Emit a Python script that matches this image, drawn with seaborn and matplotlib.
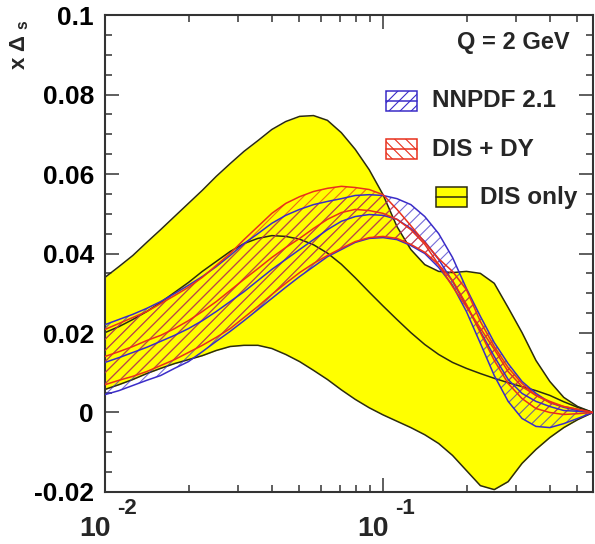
import matplotlib as mpl
import matplotlib.pyplot as plt
import matplotlib.patches as mpatches
import matplotlib.ticker as ticker
import numpy as np
import pandas as pd
import seaborn as sns

# x grid: every 0.05 in log10(x)
x_vals = [0.01, 0.01122, 0.01259, 0.01413, 0.01585, 0.01778, 0.01995, 0.02239, 0.02512,
          0.02818, 0.03162, 0.03548, 0.03981, 0.04467, 0.05012, 0.05623, 0.0631, 0.07079,
          0.07943, 0.08913, 0.1, 0.1122, 0.1259, 0.1413, 0.1585, 0.1778, 0.1995, 0.2239,
          0.2512, 0.2818, 0.3162, 0.3548, 0.3981, 0.4467, 0.5012, 0.569]

# DIS only (yellow band)
dis_upper = [0.034, 0.0367, 0.0395, 0.0428, 0.046, 0.0493, 0.0526, 0.0559, 0.0594,
             0.0626, 0.0657, 0.0684, 0.0712, 0.0732, 0.0745, 0.0747, 0.0735, 0.0704,
             0.0662, 0.0611, 0.0548, 0.0468, 0.041, 0.0372, 0.0355, 0.0352, 0.0355,
             0.035, 0.0325, 0.0264, 0.0201, 0.0131, 0.0078, 0.0038, 0.0015, 0.0]
dis_lower = [0.0058, 0.007, 0.0083, 0.0098, 0.0111, 0.0123, 0.0133, 0.0143, 0.0156,
             0.0166, 0.0169, 0.0169, 0.0161, 0.0146, 0.0128, 0.0106, 0.0083, 0.0057,
             0.0033, 0.0012, -0.0006, -0.0022, -0.0038, -0.0056, -0.0078, -0.0108, -0.0146,
             -0.0184, -0.0194, -0.0174, -0.0128, -0.0093, -0.0063, -0.0038, -0.0018, 0.0]
dis_central = [0.0201, 0.0216, 0.0234, 0.0254, 0.0277, 0.0302, 0.0327, 0.0355, 0.038,
               0.0405, 0.0425, 0.0438, 0.0445, 0.0443, 0.0436, 0.0422, 0.0401, 0.0373,
               0.0339, 0.0303, 0.0268, 0.0234, 0.0201, 0.0171, 0.0146, 0.0126, 0.0111,
               0.0098, 0.0086, 0.0075, 0.0065, 0.0055, 0.0043, 0.0027, 0.0013, 0.0]

# NNPDF 2.1 (blue hatched band)
nnpdf_upper = [0.0221, 0.0234, 0.0247, 0.0262, 0.0279, 0.0299, 0.032, 0.0342, 0.0367,
               0.0395, 0.0425, 0.045, 0.0476, 0.0496, 0.0511, 0.0523, 0.0531, 0.0538,
               0.0546, 0.0548, 0.0546, 0.0538, 0.0523, 0.0493, 0.045, 0.039, 0.0312,
               0.0242, 0.0176, 0.0123, 0.0078, 0.0048, 0.0025, 0.0013, 0.0005, 0.0]
nnpdf_lower = [0.0045, 0.0055, 0.0068, 0.0081, 0.0093, 0.0111, 0.0128, 0.0153, 0.0179,
               0.0204, 0.0231, 0.0259, 0.0287, 0.0315, 0.0342, 0.0367, 0.0392, 0.041,
               0.0428, 0.0438, 0.044, 0.0435, 0.042, 0.04, 0.0365, 0.032, 0.0254,
               0.0174, 0.0093, 0.0028, -0.0015, -0.0035, -0.0038, -0.0028, -0.0015, 0.0]
nnpdf_central = [0.0126, 0.0138, 0.0151, 0.0164, 0.0179, 0.0194, 0.0211, 0.0231, 0.0254,
                 0.0279, 0.0304, 0.0332, 0.036, 0.0385, 0.041, 0.0435, 0.046, 0.0481,
                 0.0493, 0.0498, 0.0496, 0.0486, 0.0463, 0.043, 0.0385, 0.033, 0.0269,
                 0.0204, 0.0141, 0.0083, 0.0048, 0.0028, 0.0015, 0.0005, 0.0003, 0.0]

# DIS + DY (red hatched band)
dy_upper = [0.0209, 0.0224, 0.0239, 0.0254, 0.0274, 0.0294, 0.0315, 0.034, 0.037,
            0.04, 0.0435, 0.0468, 0.0501, 0.0526, 0.0543, 0.0556, 0.0564, 0.0569,
            0.0566, 0.0561, 0.0548, 0.0511, 0.047, 0.0428, 0.0387, 0.0355, 0.0309,
            0.0229, 0.0166, 0.0113, 0.0073, 0.0043, 0.0025, 0.0015, 0.0008, 0.0]
dy_lower = [0.007, 0.0081, 0.0091, 0.0103, 0.0118, 0.0133, 0.0151, 0.0169, 0.0189,
            0.0211, 0.0239, 0.0267, 0.0297, 0.0325, 0.0352, 0.0375, 0.0395, 0.0413,
            0.043, 0.044, 0.0443, 0.0438, 0.0423, 0.0403, 0.0372, 0.0332, 0.0272,
            0.0201, 0.0131, 0.0073, 0.0035, 0.001, 0.0, -0.0005, -0.0003, 0.0]
dy_central = [0.0141, 0.0153, 0.0166, 0.0181, 0.0194, 0.0211, 0.0231, 0.0254, 0.0279,
              0.0307, 0.0335, 0.0362, 0.039, 0.0415, 0.0438, 0.0463, 0.0486, 0.0503,
              0.0511, 0.0508, 0.0501, 0.0486, 0.046, 0.0423, 0.0372, 0.0317, 0.0266,
              0.0212, 0.0159, 0.0103, 0.0065, 0.0043, 0.0028, 0.0015, 0.0008, 0.0]

x_major_ticks = [0.01, 0.1]
x_major_exponents = ["-2", "-1"]

sns.set_style("ticks")
plt.rcParams["font.family"] = ["Liberation Sans", "DejaVu Sans"]
plt.rcParams["font.weight"] = "bold"
plt.rcParams["mathtext.fontset"] = "custom"
plt.rcParams["mathtext.rm"] = "Liberation Sans:bold"
plt.rcParams["mathtext.bf"] = "Liberation Sans:bold"
plt.rcParams["mathtext.default"] = "bf"
plt.rcParams["hatch.linewidth"] = 0.8

YELLOW = "#ffff00"
EDGE = "#2b2b10"
BLUE = "#3a2cc8"
RED = "#e8301c"

df = pd.DataFrame({
    "x": x_vals,
    "dis_upper": dis_upper, "dis_lower": dis_lower, "dis_central": dis_central,
    "nnpdf_upper": nnpdf_upper, "nnpdf_lower": nnpdf_lower, "nnpdf_central": nnpdf_central,
    "dy_upper": dy_upper, "dy_lower": dy_lower, "dy_central": dy_central,
})

fig = plt.figure(figsize=(5.95, 5.44), dpi=100)
ax = fig.add_axes([0.1765, 0.0956, 0.8201, 0.8768])

# DIS only: solid yellow band
ax.fill_between(df.x, df.dis_lower, df.dis_upper, color=YELLOW, linewidth=0, zorder=1)
for col in ["dis_upper", "dis_lower", "dis_central"]:
    sns.lineplot(data=df, x="x", y=col, ax=ax, color=EDGE, linewidth=1.1, zorder=2)

# NNPDF 2.1 and DIS + DY: hatched bands
ax.fill_between(df.x, df.nnpdf_lower, df.nnpdf_upper, facecolor="none",
                edgecolor=BLUE, alpha=0.7, hatch="///", linewidth=0, zorder=3)
ax.fill_between(df.x, df.dy_lower, df.dy_upper, facecolor="none",
                edgecolor=RED, alpha=0.7, hatch="///", linewidth=0, zorder=3)
for col in ["nnpdf_upper", "nnpdf_lower", "nnpdf_central"]:
    sns.lineplot(data=df, x="x", y=col, ax=ax, color=BLUE, linewidth=1.1, zorder=4)
for col in ["dy_upper", "dy_lower", "dy_central"]:
    sns.lineplot(data=df, x="x", y=col, ax=ax, color=RED, linewidth=1.1, zorder=4)

ax.set_xscale("log")
ax.set_xlim(0.01, 0.569)
ax.set_ylim(-0.02, 0.1)
ax.set_xlabel("")
ax.set_ylabel("")

ax.yaxis.set_major_locator(ticker.MultipleLocator(0.02))
ax.yaxis.set_minor_locator(ticker.MultipleLocator(0.005))
ax.xaxis.set_major_locator(ticker.FixedLocator(x_major_ticks))
ax.xaxis.set_minor_locator(ticker.LogLocator(base=10, subs=np.arange(2, 10)))
ax.xaxis.set_major_formatter(ticker.NullFormatter())
ax.xaxis.set_minor_formatter(ticker.NullFormatter())


def y_fmt(value, pos):
    v = round(value, 4)
    if v == 0:
        return "0"
    return f"{v:g}"


ax.yaxis.set_major_formatter(ticker.FuncFormatter(y_fmt))
ax.tick_params(which="both", direction="in", top=True, right=True, colors="#333333",
               labelcolor="black", labelsize=19, width=1.1)
ax.tick_params(which="major", length=10, pad=8)
ax.tick_params(which="minor", length=5)
for spine in ax.spines.values():
    spine.set_linewidth(1.5)
    spine.set_color("#333333")

# ROOT style "10" with the exponent raised above it
for tick, expo in zip(x_major_ticks, x_major_exponents):
    ax.annotate("10", xy=(tick, 0), xycoords=("data", "axes fraction"),
                xytext=(4, -17), textcoords="offset points",
                ha="right", va="top", fontsize=20.5, fontweight="bold")
    ax.annotate(expo, xy=(tick, 0), xycoords=("data", "axes fraction"),
                xytext=(9, -4), textcoords="offset points",
                ha="left", va="top", fontsize=16, fontweight="bold")

fig.text(20 / 595, 1 - 45 / 544, r"x $\Delta$ $_{s}$", rotation=90, fontsize=16,
         ha="center", va="center")
ax.text(0.953, 0.943, "Q = 2 GeV", transform=ax.transAxes, ha="right", va="center",
        fontsize=17, fontweight="bold")

# legend drawn by hand to match the staggered layout
legend_rows = [
    (0.576, 0.799, 0.670, 0.820, "NNPDF 2.1", "none", BLUE, "///"),
    (0.576, 0.698, 0.670, 0.717, "DIS + DY", "none", RED, "\\\\\\"),
    (0.678, 0.597, 0.768, 0.618, "DIS only", YELLOW, EDGE, None),
]
bw, bh = 0.0635, 0.042
for bx, by, tx, ty, label, face, edge, hatch in legend_rows:
    rect = mpatches.Rectangle((bx, by), bw, bh, transform=ax.transAxes, facecolor=face,
                              edgecolor=edge, hatch=hatch, linewidth=1.1, zorder=6)
    ax.add_patch(rect)
    ax.plot([bx, bx + bw], [by + bh / 2, by + bh / 2], transform=ax.transAxes,
            color=edge, linewidth=1.1, zorder=7)
    ax.text(tx, ty, label, transform=ax.transAxes, ha="left", va="center",
            fontsize=17.5, fontweight="bold", zorder=7)

fig.savefig("out.png", dpi=100)
